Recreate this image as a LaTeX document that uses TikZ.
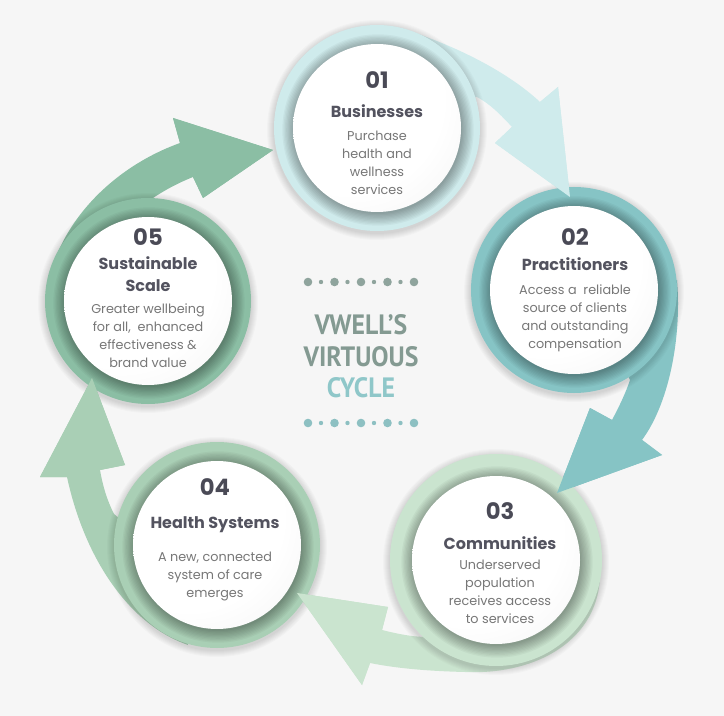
\documentclass[tikz,border=0pt]{standalone}
\usepackage{fontspec}
\setmainfont{Poppins}
\newfontfamily\titlefont[FakeStretch=0.92]{PT Sans}
\definecolor{bg}{HTML}{F6F6F6}
\definecolor{ca}{HTML}{CFEBEC}
\definecolor{cb}{HTML}{86C4C5}
\definecolor{cc}{HTML}{CAE4CF}
\definecolor{cd}{HTML}{A9CFB5}
\definecolor{ce}{HTML}{8BBEA4}
\definecolor{numc}{HTML}{4A4A56}
\definecolor{headc}{HTML}{53535F}
\definecolor{bodyc}{HTML}{777777}
\definecolor{titc}{HTML}{849A92}
\definecolor{cyc}{HTML}{8FC7C9}
\definecolor{dotA}{HTML}{8FA49D}
\definecolor{dotB}{HTML}{8DC0C2}
\pgfdeclareradialshading{wball}{\pgfpoint{-14bp}{14bp}}{color(0bp)=(white); color(28bp)=(white); color(70bp)=(black!12)}
\newcommand\vring[5]{%
  \foreach \k in {1,...,7}{\fill[black,opacity=0.018] (#2,#3+2) circle[radius=#5+\k];}
  \fill[#4] (#2,#3) circle[radius=#5];
  \foreach \k in {0,...,9}{\fill[black,opacity=0.034] (#2+1,#3+2) circle[radius=84+1.3*\k];}
  \shade[shading=wball] (#2,#3) circle[radius=84];
  \coordinate (#1) at (#2,#3);
}
\begin{document}
\begin{tikzpicture}[x=0.75pt,y=-0.75pt,
  numf/.style={font=\fontsize{17}{19}\selectfont\bfseries, text=numc, inner sep=0pt},
  headf/.style={font=\fontsize{12}{16.5}\selectfont\bfseries, text=headc, align=center, inner sep=0pt},
  bodyf/.style={font=\fontsize{9.6}{13.5}\selectfont, text=bodyc, align=center, inner sep=0pt},
  titf/.style={font=\titlefont\bfseries\fontsize{21}{24}\selectfont, inner sep=0pt}]
\useasboundingbox (0,0) rectangle (724,716);
\fill[bg] (0,0) rectangle (724,716);
% arrow bands (tails hidden behind their circles)
\fill[ca] (400,28) .. controls (455,45) and (508,72) .. (540,102) -- (558,87) -- (570,197) -- (495,143) -- (512,127) .. controls (500,114) and (490,104) .. (477,97) -- (420,90) -- cycle;
\fill[cb] (677,280) .. controls (682,340) and (668,405) .. (642,440) -- (662,455) -- (557,493) -- (590,408) -- (612,420) .. controls (620,405) and (626,392) .. (630,380) -- (600,320) -- cycle;
\fill[cc] (600,578) .. controls (596,645) and (530,675) .. (465,672) .. controls (425,671) and (395,668) .. (370,663) -- (362,685) -- (297,593) -- (388,607) -- (382,630) .. controls (398,634) and (413,637) .. (427,637) -- (480,600) -- cycle;
\fill[cd] (188,645) .. controls (130,625) and (85,560) .. (67,477) -- (40,477) -- (92,378) -- (125,465) -- (100,470) .. controls (103,487) and (107,500) .. (114,514) -- (170,560) -- cycle;
\fill[ce] (46,305) .. controls (48,235) and (105,170) .. (180,143) -- (173,118) -- (273,150) -- (203,198) -- (193,177) .. controls (178,183) and (165,190) .. (153,198) -- (150,250) -- cycle;
% circles
\vring{c1}{377}{128}{ca}{103}
\vring{c2}{574}{290}{cb}{103}
\vring{c3}{496}{560}{cc}{106}
\vring{c4}{217}{545}{cd}{103}
\vring{c5}{148}{301}{ce}{103}
% arrow heads on top
\fill[ca] (540,102) -- (558,87) -- (570,197) -- (495,143) -- (512,127) -- cycle;
\fill[cb] (642,440) -- (662,455) -- (557,493) -- (590,408) -- (612,420) -- cycle;
\fill[cc] (370,663) -- (362,685) -- (297,593) -- (388,607) -- (382,630) -- cycle;
\fill[cd] (67,477) -- (40,477) -- (92,378) -- (125,465) -- (100,470) -- cycle;
\fill[ce] (180,143) -- (173,118) -- (273,150) -- (203,198) -- (193,177) -- cycle;
% texts
\node[numf] (n1) at (377,80) {01};
\node[headf] (h1) at (377,111) {Businesses};
\node[bodyf] (b1) at (377,163) {Purchase\\health and\\wellness\\services};
\node[numf] (n2) at (575,237) {02};
\node[headf] (h2) at (575,264) {Practitioners};
\node[bodyf] (b2) at (575,318) {Access a\ \ reliable\\source of clients\\and outstanding\\compensation};
\node[numf] (n3) at (500,511) {03};
\node[headf] (h3) at (500,543) {Communities};
\node[bodyf] (b3) at (500,592) {Underserved\\population\\receives access\\to services};
\node[numf] (n4) at (215,487) {04};
\node[headf] (h4) at (215,525) {Health Systems};
\node[bodyf] (b4) at (215,576) {A new, connected\\system of care\\emerges};
\node[numf] (n5) at (148,237) {05};
\node[headf] (h5) at (148,274) {Sustainable\\Scale};
\node[bodyf] (b5) at (148,336) {Greater wellbeing\\for all,\ \ enhanced\\effectiveness \&\\brand value};
% centre title
\foreach \i in {0,...,4}{
  \fill[dotA] (308+26.5*\i,282) circle[radius=4.3];
  \fill[dotB] (308+26.5*\i,423) circle[radius=4.3];}
\foreach \i in {0,...,3}{
  \fill[dotA] (321+26.5*\i,282) circle[radius=2.2];
  \fill[dotB] (321+26.5*\i,423) circle[radius=2.2];}
\node[titf, text=titc] (t1) at (361,325) {VWELL’S};
\node[titf, text=titc] (t2) at (361,357) {VIRTUOUS};
\node[titf, text=cyc] (t3) at (361,388) {CYCLE};
\end{tikzpicture}
\end{document}
